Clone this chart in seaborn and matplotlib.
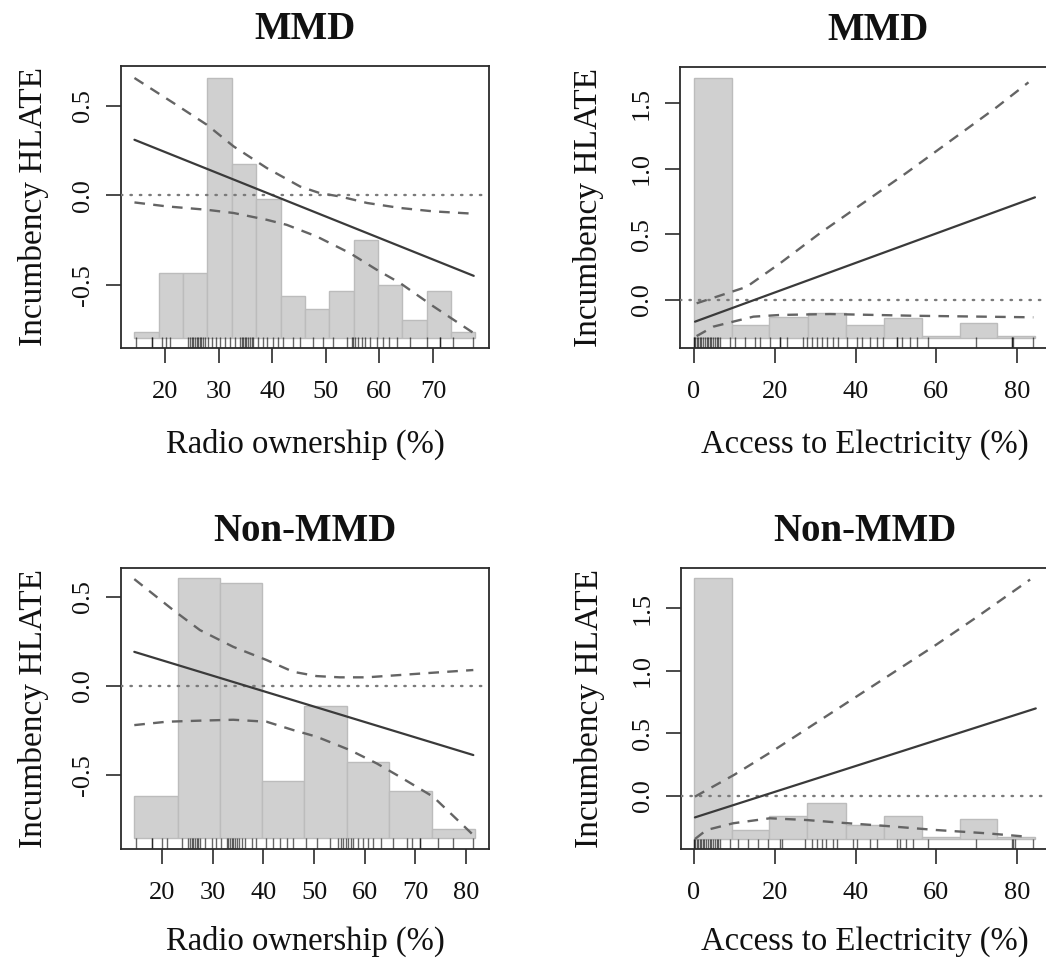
import matplotlib
matplotlib.use("Agg")
import matplotlib.pyplot as plt
import seaborn as sns
import numpy as np
from matplotlib.ticker import FormatStrFormatter

sns.set_style("white")
plt.rcParams['font.family'] = ['Liberation Serif', 'DejaVu Serif']
plt.rcParams['axes.unicode_minus'] = False

# ---------------- data ----------------
titles = ["MMD", "MMD", "Non-MMD", "Non-MMD"]
xlabels = ["Radio ownership (%)", "Access to Electricity (%)",
           "Radio ownership (%)", "Access to Electricity (%)"]
ylabel = "Incumbency HLATE"

# top-left: MMD, radio
tl_bin_edges = [14.3, 18.8, 23.4, 27.9, 32.5, 37.0, 41.6, 46.1, 50.6, 55.2, 59.7, 64.3, 68.8, 73.3, 77.9]
tl_bar_tops = [-0.76, -0.434, -0.434, 0.655, 0.177, -0.02, -0.564, -0.635, -0.536, -0.248, -0.499, -0.698, -0.533, -0.76]
tl_bar_base = -0.797
tl_line_x = [14.3, 77.6]
tl_line_y = [0.311, -0.449]
tl_upper_x = [14.3, 21.6, 27.8, 32.8, 39.0, 45.2, 48.9, 52.7, 57.7, 63.9, 70.1, 77.6]
tl_upper_y = [0.656, 0.516, 0.395, 0.274, 0.153, 0.05, 0.013, -0.006, -0.042, -0.07, -0.089, -0.102]
tl_lower_x = [14.3, 20.3, 27.8, 32.8, 39.0, 42.7, 48.3, 54.5, 59.5, 63.9, 70.1, 77.6]
tl_lower_y = [-0.039, -0.061, -0.08, -0.098, -0.136, -0.164, -0.229, -0.322, -0.415, -0.49, -0.62, -0.769]
tl_rug = [14.6, 17.5, 17.6, 19.4, 20.2, 20.9, 24.3, 24.6, 25.0, 25.3, 25.6, 25.9, 26.2, 26.5, 26.8,
          27.1, 27.5, 28.1, 28.7, 29.6, 30.3, 31.2, 32.1, 33.1, 34.0, 34.3, 34.6, 34.9, 35.2, 35.5,
          35.9, 36.2, 36.5, 37.4, 38.3, 39.0, 40.2, 41.1, 42.1, 43.9, 45.2, 47.7, 49.5, 51.4, 53.9,
          54.8, 55.1, 55.4, 56.1, 56.7, 57.3, 58.2, 59.5, 60.7, 61.7, 63.2, 65.7, 68.8, 71.3, 71.4,
          73.8, 77.5]

# top-right: MMD, electricity
tr_bin_edges = [0.0, 9.3, 18.6, 28.1, 37.6, 47.0, 56.4, 65.8, 75.1, 84.4]
tr_bar_tops = [1.69, -0.191, -0.127, -0.102, -0.191, -0.14, -0.275, -0.173, -0.275]
tr_bar_base = -0.29
tr_line_x = [0.25, 84.4]
tr_line_y = [-0.165, 0.783]
tr_upper_x = [0.65, 13.0, 21.3, 31.2, 41.9, 52.6, 64.2, 74.9, 82.8]
tr_upper_y = [-0.025, 0.10, 0.28, 0.51, 0.74, 0.97, 1.23, 1.47, 1.66]
tr_lower_x = [0.65, 4.8, 9.7, 14.7, 21.3, 33.7, 54.3, 84.0]
tr_lower_y = [-0.275, -0.203, -0.165, -0.127, -0.114, -0.107, -0.12, -0.132]
tr_rug = [0, 0, 0.3, 0.7, 1.0, 1.5, 1.8, 2.3, 2.6, 3.1, 3.5, 3.9, 4.3, 4.8, 5.2, 5.6, 6.0, 6.4,
          8.9, 10.1, 12.6, 15.1, 16.3, 18.8, 21.3, 21.4, 22.9, 27.1, 27.9, 29.1, 30.4, 31.6, 32.8,
          34.5, 35.7, 37.8, 40.3, 41.5, 43.6, 45.2, 46.9, 50.2, 50.3, 51.4, 53.5, 55.1, 58.0, 69.9,
          78.6, 78.7, 79.0, 84.0]

# bottom-left: Non-MMD, radio
bl_bin_edges = [14.46, 23.04, 31.41, 39.78, 48.09, 56.59, 64.89, 73.39, 81.84]
bl_bar_tops = [-0.618, 0.603, 0.578, -0.536, -0.111, -0.429, -0.588, -0.801]
bl_bar_base = -0.855
bl_line_x = [14.46, 81.5]
bl_line_y = [0.191, -0.388]
bl_upper_x = [14.46, 22.17, 27.44, 34.03, 40.62, 45.9, 50.5, 55.1, 60.4, 66.98, 73.57, 81.5]
bl_upper_y = [0.599, 0.425, 0.313, 0.219, 0.145, 0.079, 0.055, 0.048, 0.048, 0.061, 0.074, 0.089]
bl_lower_x = [14.46, 20.86, 27.44, 34.03, 40.62, 45.9, 50.5, 57.1, 62.4, 66.98, 73.57, 81.5]
bl_lower_y = [-0.22, -0.201, -0.195, -0.19, -0.201, -0.248, -0.285, -0.36, -0.435, -0.51, -0.622, -0.837]
bl_rug = [14.8, 17.9, 18.0, 19.9, 20.9, 23.8, 25.1, 25.4, 25.8, 26.1, 26.5, 26.8, 27.1, 27.5, 28.4,
          29.8, 30.7, 31.7, 32.7, 33.0, 33.4, 33.7, 34.0, 34.4, 34.7, 35.2, 35.7, 36.3, 37.7, 38.6,
          40.6, 41.9, 43.3, 44.6, 45.9, 48.5, 50.5, 53.1, 54.8, 55.3, 55.8, 56.3, 56.8, 57.3, 57.8,
          58.7, 59.7, 60.7, 61.7, 63.3, 65.7, 68.3, 69.3, 70.9, 71.0, 74.5, 77.5, 81.5]

# bottom-right: Non-MMD, electricity
br_bin_edges = [0.0, 9.3, 18.6, 28.1, 37.6, 47.0, 56.4, 65.8, 75.1, 84.4]
br_bar_tops = [1.74, -0.272, -0.16, -0.059, -0.232, -0.16, -0.325, -0.187, -0.325]
br_bar_base = -0.346
br_line_x = [0.25, 84.6]
br_line_y = [-0.171, 0.70]
br_upper_x = [0.25, 10.0, 20.0, 30.0, 40.0, 50.0, 60.0, 70.0, 83.2]
br_upper_y = [-0.005, 0.17, 0.37, 0.58, 0.79, 1.0, 1.21, 1.43, 1.73]
br_lower_x = [0.25, 3.1, 9.7, 18.8, 27.9, 36.1, 47.7, 60.0, 72.4, 82.3]
br_lower_y = [-0.344, -0.272, -0.218, -0.178, -0.192, -0.213, -0.24, -0.272, -0.298, -0.325]
br_rug = [0, 0, 0.3, 0.7, 1.0, 1.5, 1.8, 2.3, 2.6, 3.1, 3.5, 3.9, 4.3, 4.8, 5.2, 5.6, 6.0, 6.4,
          8.9, 11.0, 13.4, 15.9, 18.4, 21.3, 21.7, 27.5, 29.1, 30.4, 31.6, 32.8, 34.5, 35.3, 39.4,
          40.3, 43.6, 45.2, 50.2, 51.0, 52.6, 54.3, 58.0, 69.9, 78.6, 79.0, 79.4, 84.0]

radio_xticks_top = [20, 30, 40, 50, 60, 70]
radio_xticks_bottom = [20, 30, 40, 50, 60, 70, 80]
elec_xticks = [0, 20, 40, 60, 80]
radio_yticks = [-0.5, 0.0, 0.5]
elec_yticks = [0.0, 0.5, 1.0, 1.5]

# ---------------- layout ----------------
W, H = 1046, 959
fig = plt.figure(figsize=(W / 100, H / 100), dpi=100)

def px_axes(left, top, right, bottom):
    return fig.add_axes([left / W, 1 - bottom / H, (right - left) / W, (bottom - top) / H])

panels = [
    dict(box=(121, 66, 489, 348), xlim=(11.79, 80.45), ylim=(-0.852, 0.723),
         edges=tl_bin_edges, tops=tl_bar_tops, base=tl_bar_base,
         lx=tl_line_x, ly=tl_line_y, ux=tl_upper_x, uy=tl_upper_y, dx=tl_lower_x, dy=tl_lower_y,
         rug=tl_rug, xt=radio_xticks_top, yt=radio_yticks, title=titles[0], xl=xlabels[0],
         xlab_off=81, title_x=0.5),
    dict(box=(680, 67, 1049.5, 348), xlim=(-3.47, 88.0), ylim=(-0.366, 1.777),
         edges=tr_bin_edges, tops=tr_bar_tops, base=tr_bar_base,
         lx=tr_line_x, ly=tr_line_y, ux=tr_upper_x, uy=tr_upper_y, dx=tr_lower_x, dy=tr_lower_y,
         rug=tr_rug, xt=elec_xticks, yt=elec_yticks, title=titles[1], xl=xlabels[1],
         xlab_off=81, title_x=0.536),
    dict(box=(121, 567.7, 489, 849), xlim=(11.83, 84.6), ylim=(-0.915, 0.663),
         edges=bl_bin_edges, tops=bl_bar_tops, base=bl_bar_base,
         lx=bl_line_x, ly=bl_line_y, ux=bl_upper_x, uy=bl_upper_y, dx=bl_lower_x, dy=bl_lower_y,
         rug=bl_rug, xt=radio_xticks_bottom, yt=radio_yticks, title=titles[2], xl=xlabels[2],
         xlab_off=77, title_x=0.5),
    dict(box=(681, 568.3, 1049.5, 849.3), xlim=(-3.2, 88.0), ylim=(-0.426, 1.82),
         edges=br_bin_edges, tops=br_bar_tops, base=br_bar_base,
         lx=br_line_x, ly=br_line_y, ux=br_upper_x, uy=br_upper_y, dx=br_lower_x, dy=br_lower_y,
         rug=br_rug, xt=elec_xticks, yt=elec_yticks, title=titles[3], xl=xlabels[3],
         xlab_off=77, title_x=0.5),
]

spine_col = "#2b2b2b"
for p in panels:
    l, t, r, b = p["box"]
    ax = px_axes(l, t, r, b)
    ax.set_facecolor("white")
    edges = np.array(p["edges"])
    tops = np.array(p["tops"])
    ax.bar(edges[:-1], tops - p["base"], width=np.diff(edges), bottom=p["base"], align="edge",
           color="#d0d0d0", edgecolor="#bcbcbc", linewidth=1.0, zorder=1)
    sns.rugplot(x=p["rug"], ax=ax, height=0.038, color="black", alpha=0.6, lw=1.3,
                expand_margins=False, zorder=2)
    ax.axhline(0, color="#7a7a7a", lw=1.7, linestyle=(0, (0.6, 3.4)),
               dash_capstyle="round", zorder=3)
    for xs, ys in ((p["ux"], p["uy"]), (p["dx"], p["dy"])):
        sns.lineplot(x=xs, y=ys, ax=ax, color="#646464", lw=1.7,
                     linestyle=(0, (4.5, 3.5)), estimator=None, sort=False, zorder=4)
    sns.lineplot(x=p["lx"], y=p["ly"], ax=ax, color="#3a3a3a", lw=1.6,
                 estimator=None, sort=False, zorder=5)
    ax.set_xlim(*p["xlim"])
    ax.set_ylim(*p["ylim"])
    ax.set_xticks(p["xt"])
    ax.set_yticks(p["yt"])
    ax.xaxis.set_major_formatter(FormatStrFormatter("%d"))
    ax.yaxis.set_major_formatter(FormatStrFormatter("%.1f"))
    for s in ax.spines.values():
        s.set_visible(True)
        s.set_color(spine_col)
        s.set_linewidth(1.3)
    ax.tick_params(axis="both", which="major", direction="out", length=10.5, width=1.2,
                   color=spine_col, labelsize=19, labelcolor="#111111",
                   bottom=True, left=True, top=False, right=False)
    ax.tick_params(axis="x", pad=13)
    ax.tick_params(axis="y", pad=9, labelrotation=90)
    for lab in ax.get_yticklabels():
        lab.set_va("center")
    ax.set_title(p["title"], fontsize=28, fontweight="bold", pad=19.5, color="#111111",
                 x=p["title_x"])
    ax.set_xlabel(p["xl"], fontsize=23.5, color="#111111")
    ax.set_ylabel(ylabel, fontsize=24, color="#111111")
    width_px = r - l
    height_px = b - t
    ax.xaxis.set_label_coords(0.5, -p["xlab_off"] / height_px)
    ax.yaxis.set_label_coords(-(72 if l < 300 else 76) / width_px, 0.5)

fig.savefig("out.png", dpi=100)
